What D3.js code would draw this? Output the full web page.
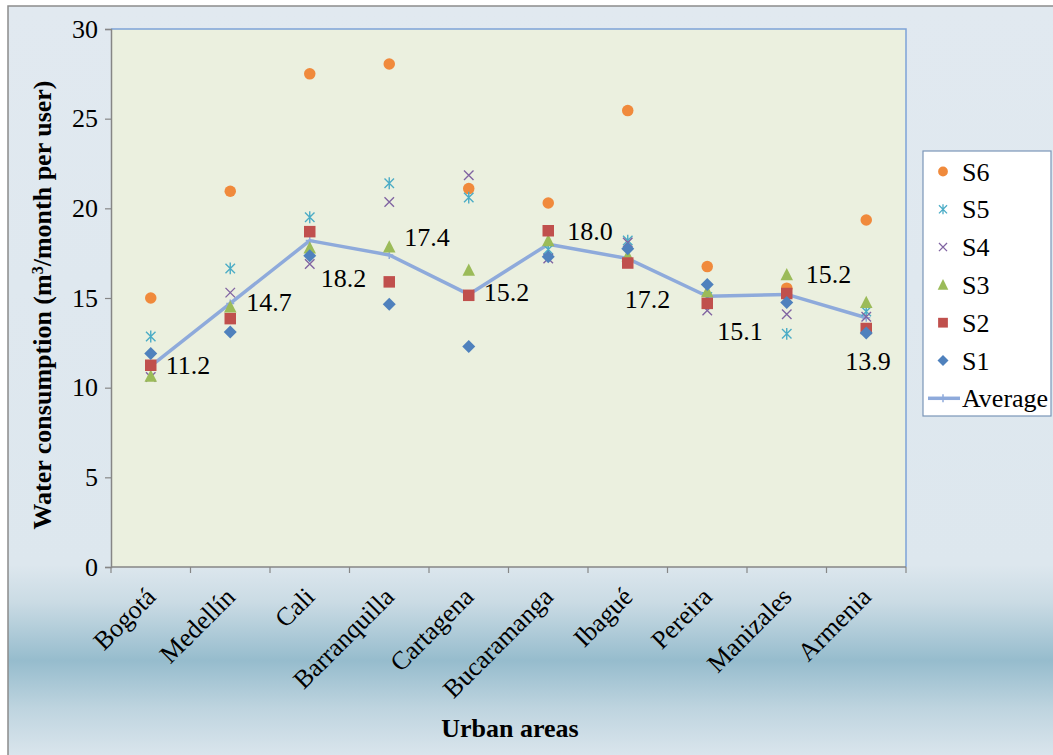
<!DOCTYPE html>
<html>
<head>
<meta charset="utf-8">
<script src="https://cdn.jsdelivr.net/npm/d3@7/dist/d3.min.js"></script>
<style>
  html, body { margin: 0; padding: 0; background: #ffffff; }
  svg { display: block; }
  svg text { font-family: "Liberation Serif", "Times New Roman", Times, serif !important; fill: #000; }
</style>
</head>
<body>
<svg id="chart" width="1053" height="755" font-family="Liberation Serif"></svg>
<script>
// Water consumption per user in Colombian urban areas, by stratum (S1–S6)
const categories = ["Bogotá", "Medellín", "Cali", "Barranquilla", "Cartagena",
                    "Bucaramanga", "Ibagué", "Pereira", "Manizales", "Armenia"];
const s1 = [11.9, 13.1, 17.35, 14.65, 12.3, 17.3, 17.75, 15.75, 14.75, 13.05];
const s2 = [11.25, 13.85, 18.7, 15.9, 15.15, 18.75, 16.95, 14.7, 15.25, 13.3];
const s3 = [10.65, 14.5, 17.8, 17.85, 16.55, 18.2, 17.35, 15.35, 16.3, 14.75];
const s4 = [10.6, 15.3, 16.9, 20.35, 21.85, 17.2, 18.1, 14.3, 14.1, 13.95];
const s5 = [12.85, 16.65, 19.5, 21.4, 20.6, 17.7, 18.2, 15.05, 13.0, 14.25];
const s6 = [15.0, 20.95, 27.5, 28.05, 21.1, 20.3, 25.45, 16.75, 15.55, 19.35];
const average = [11.2, 14.7, 18.2, 17.4, 15.2, 18.0, 17.2, 15.1, 15.2, 13.9];
const yTicks = [0, 5, 10, 15, 20, 25, 30];
const seriesNames = ["S1", "S2", "S3", "S4", "S5", "S6"];

// Where each average value label sits relative to its point (px)
const labelOffsets = [[15, 8], [16, 8], [11, 46], [15, -9], [15, 7],
                      [19, -4], [-3, 49], [10, 44], [19, -11], [-21, 52]];

// Marker shapes (size = width of the marker in px)
const symDiamond = { draw(ctx, s) { const r = s / 2;
  ctx.moveTo(0, -r); ctx.lineTo(r, 0); ctx.lineTo(0, r); ctx.lineTo(-r, 0); ctx.closePath(); } };
const symSquare = { draw(ctx, s) { const r = s / 2; ctx.rect(-r, -r, s, s); } };
const symTriangle = { draw(ctx, s) { const r = s / 2, h = s * 0.9;
  ctx.moveTo(0, -h / 2 - 1); ctx.lineTo(r, h / 2); ctx.lineTo(-r, h / 2); ctx.closePath(); } };
const symCircle = { draw(ctx, s) { const r = s / 2; ctx.moveTo(r, 0); ctx.arc(0, 0, r, 0, 2 * Math.PI); } };
const symX = { draw(ctx, s) { const r = s / 2;
  ctx.moveTo(-r, -r); ctx.lineTo(r, r); ctx.moveTo(-r, r); ctx.lineTo(r, -r); } };
const symStar = { draw(ctx, s) { const r = s / 2;
  ctx.moveTo(-r, -r); ctx.lineTo(r, r); ctx.moveTo(-r, r); ctx.lineTo(r, -r);
  ctx.moveTo(0, -r * 1.25); ctx.lineTo(0, r * 1.25); } };
const symPlus = { draw(ctx, s) { const r = s / 2;
  ctx.moveTo(-r, 0); ctx.lineTo(r, 0); ctx.moveTo(0, -r); ctx.lineTo(0, r); } };

const styles = {
  S1: { color: "#4f81bd", type: symDiamond, size: 13, fill: true },
  S2: { color: "#c0504d", type: symSquare, size: 11.5, fill: true },
  S3: { color: "#9bbb59", type: symTriangle, size: 12.5, fill: true },
  S4: { color: "#8064a2", type: symX, size: 9.5, fill: false },
  S5: { color: "#4bacc6", type: symStar, size: 9.5, fill: false },
  S6: { color: "#f08a3c", type: symCircle, size: 11.5, fill: true }
};
const avgColor = "#8eaadb";

const seriesData = { S1: s1, S2: s2, S3: s3, S4: s4, S5: s5, S6: s6 };

const svg = d3.select("#chart");
const W = 1053, H = 755;
const plot = { left: 111, right: 906, top: 29, bottom: 567 };

// Background gradient of the chart frame
const defs = svg.append("defs");
const grad = defs.append("linearGradient").attr("id", "bg")
  .attr("x1", 0).attr("y1", 0).attr("x2", 0).attr("y2", 1);
[[0, "#e1e9f0"], [0.74, "#dde7ee"], [0.79, "#cadbe4"], [0.867, "#96bccd"], [0.93, "#bed4df"], [1, "#dde7ee"]]
  .forEach(([o, c]) => grad.append("stop").attr("offset", o).attr("stop-color", c));

svg.append("rect").attr("x", 8).attr("y", 6).attr("width", W).attr("height", H)
  .attr("fill", "url(#bg)").attr("stroke", "#8c8c8c").attr("stroke-width", 1.5);

const x = d3.scalePoint().domain(categories).range([plot.left, plot.right]).padding(0.5);
const y = d3.scaleLinear().domain([0, 30]).range([plot.bottom, plot.top]);

// Plot area
svg.append("rect")
  .attr("x", plot.left).attr("y", plot.top)
  .attr("width", plot.right - plot.left).attr("height", plot.bottom - plot.top)
  .attr("fill", "#ebf0df");
svg.append("path")
  .attr("d", `M${plot.left},${plot.top}H${plot.right}V${plot.bottom}`)
  .attr("fill", "none").attr("stroke", "#7ea2d8").attr("stroke-width", 1.5);

// Y axis
const yAxis = svg.append("g").attr("transform", `translate(${plot.left},0)`)
  .call(d3.axisLeft(y).tickValues(yTicks).tickSize(6).tickPadding(7).tickFormat(d3.format("d")));
yAxis.attr("font-family", null);
yAxis.select(".domain").attr("stroke", "#868686").attr("stroke-width", 1.5);
yAxis.selectAll(".tick line").attr("stroke", "#868686").attr("stroke-width", 1.2);
yAxis.selectAll(".tick text").attr("font-size", 26).attr("fill", "#000");

// X axis with tick marks between categories
const xAxisG = svg.append("g").attr("transform", `translate(0,${plot.bottom})`);
xAxisG.append("line").attr("x1", plot.left).attr("x2", plot.right)
  .attr("stroke", "#868686").attr("stroke-width", 1.5);
const step = x.step();
const boundaries = d3.range(categories.length + 1).map(i => plot.left + i * step);
xAxisG.selectAll("line.tk").data(boundaries).join("line").attr("class", "tk")
  .attr("x1", d => d).attr("x2", d => d).attr("y1", 0).attr("y2", 6)
  .attr("stroke", "#868686").attr("stroke-width", 1.2);
xAxisG.selectAll("text.cat").data(categories).join("text").attr("class", "cat")
  .attr("transform", d => `translate(${x(d)},${25}) rotate(-45)`)
  .attr("text-anchor", "end").attr("dy", "0.35em")
  .attr("font-size", 26).text(d => d);

// Axis titles
svg.append("text")
  .attr("transform", `translate(42,305) rotate(-90)`)
  .attr("text-anchor", "middle").attr("dy", "0.35em")
  .attr("font-size", 26).attr("font-weight", "bold")
  .call(t => {
    t.append("tspan").text("Water consumption (m");
    t.append("tspan").text("3").attr("font-size", 16).attr("baseline-shift", "super");
    t.append("tspan").text("/month per user)");
  });
svg.append("text").attr("x", 510).attr("y", 737)
  .attr("text-anchor", "middle").attr("font-size", 26).attr("font-weight", "bold")
  .text("Urban areas");

// Average line
const line = d3.line().x((d, i) => x(categories[i])).y(d => y(d));
svg.append("path").datum(average).attr("d", line)
  .attr("fill", "none").attr("stroke", avgColor).attr("stroke-width", 3.5)
  .attr("stroke-linejoin", "round");
svg.append("g").selectAll("path").data(average).join("path")
  .attr("transform", (d, i) => `translate(${x(categories[i])},${y(d)})`)
  .attr("d", d3.symbol().type(symPlus).size(8)())
  .attr("stroke", avgColor).attr("stroke-width", 1.5).attr("fill", "none");

// Stratum markers (S6 underneath, S1 on top)
seriesNames.slice().reverse().forEach(name => {
  const st = styles[name];
  const sym = d3.symbol().type(st.type).size(st.size);
  svg.append("g").selectAll("path").data(seriesData[name]).join("path")
    .attr("transform", (d, i) => `translate(${x(categories[i])},${y(d)})`)
    .attr("d", sym())
    .attr("fill", st.fill ? st.color : "none")
    .attr("stroke", st.fill ? "none" : st.color)
    .attr("stroke-width", st.fill ? 0 : 1.4);
});

// Average value labels
svg.append("g").selectAll("text").data(average).join("text")
  .attr("x", (d, i) => x(categories[i]) + labelOffsets[i][0])
  .attr("y", (d, i) => y(d) + labelOffsets[i][1])
  .attr("font-size", 26).text(d => d3.format(".1f")(d));

// Legend
const lg = svg.append("g");
lg.append("rect").attr("x", 923).attr("y", 151).attr("width", 128).attr("height", 265)
  .attr("fill", "#ffffff").attr("stroke", "#7b96b8").attr("stroke-width", 1.2);
const legendItems = ["S6", "S5", "S4", "S3", "S2", "S1", "Average"];
legendItems.forEach((name, i) => {
  const cy = 171.5 + i * 37.8;
  if (name === "Average") {
    lg.append("line").attr("x1", 928).attr("x2", 960).attr("y1", cy).attr("y2", cy)
      .attr("stroke", avgColor).attr("stroke-width", 3.5);
    lg.append("path").attr("transform", `translate(943,${cy})`)
      .attr("d", d3.symbol().type(symPlus).size(8)())
      .attr("stroke", avgColor).attr("stroke-width", 1.5).attr("fill", "none");
  } else {
    const st = styles[name];
    lg.append("path").attr("transform", `translate(943,${cy})`)
      .attr("d", d3.symbol().type(st.type).size(st.size * 0.85)())
      .attr("fill", st.fill ? st.color : "none")
      .attr("stroke", st.fill ? "none" : st.color)
      .attr("stroke-width", st.fill ? 0 : 1.3);
  }
  lg.append("text").attr("x", 962).attr("y", cy).attr("dy", "0.35em")
    .attr("font-size", 26).text(name);
});
</script>
</body>
</html>
